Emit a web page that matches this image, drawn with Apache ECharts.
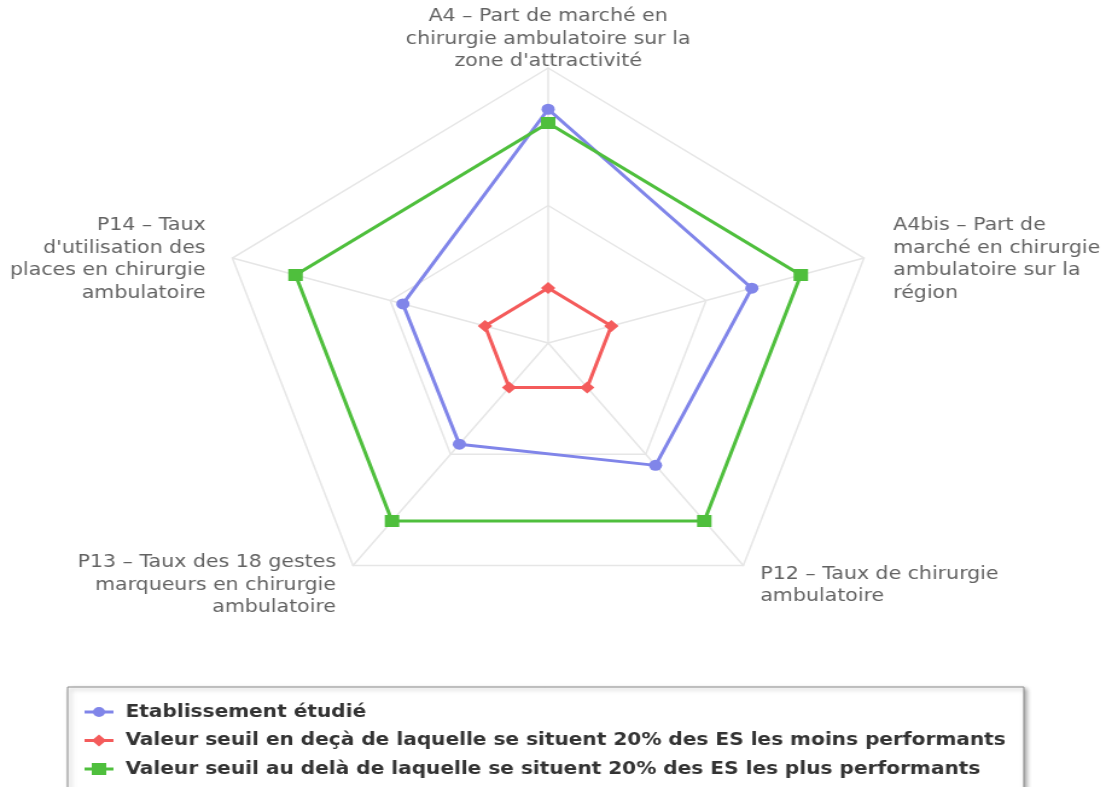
<!DOCTYPE html>
<html>
<head>
<meta charset="utf-8">
<title>Radar chirurgie ambulatoire</title>
<script src="https://cdn.jsdelivr.net/npm/echarts@6/dist/echarts.min.js"></script>
<style>
  html, body { margin: 0; padding: 0; background: #fff; overflow: hidden; }
  /* the reference is stretched horizontally, so the whole chart is too */
  #chart { width: 916px; height: 787px; transform: scaleX(1.2074); transform-origin: 0 0; }
</style>
</head>
<body>
<div id="chart"></div>
<script>
// indicators, clockwise from the top
const indicators = [
  "A4 \u2013 Part de march\u00e9 en\nchirurgie ambulatoire sur la\nzone d'attractivit\u00e9",
  'A4bis \u2013 Part de\nmarch\u00e9 en chirurgie\nambulatoire sur la\nr\u00e9gion',
  'P12 \u2013 Taux de chirurgie\nambulatoire',
  'P13 \u2013 Taux des 18 gestes\nmarqueurs en chirurgie\nambulatoire',
  "P14 \u2013 Taux\nd'utilisation des\nplaces en chirurgie\nambulatoire"
]
const seriesNames = [
  'Etablissement \u00e9tudi\u00e9',
  'Valeur seuil en de\u00e7\u00e0 de laquelle se situent 20% des ES les moins performants',
  'Valeur seuil au del\u00e0 de laquelle se situent 20% des ES les plus performants'
]
const etablissement = [0.85, 0.645, 0.55, 0.455, 0.46]
const seuilBas = [0.2, 0.2, 0.2, 0.2, 0.2]
const seuilHaut = [0.8, 0.8, 0.8, 0.8, 0.8]

const colors = ['#8085e9', '#f45b5b', '#4fbf3d']
const icons = [
  'path://M0,4.5H24V7.5H0Z M17,6A5,5 0 1,1 7,6A5,5 0 1,1 17,6Z',
  'path://M0,4.5H24V7.5H0Z M12,0L18,6L12,12L6,6Z',
  'path://M0,4.5H24V7.5H0Z M6,0H18V12H6Z'
]
const symbols = ['circle', 'diamond', 'rect']
const symbolSizes = [11, 12, 12]

// echarts lays radar axes out counter-clockwise
const order = [0, 4, 3, 2, 1]
const reorder = arr => order.map(i => arr[i])

// per-label nudges so the names sit like in the reference
const nameStyle = ['top', 'right', 'lower', 'lower', 'left']
function formatName(name) {
  const idx = indicators.indexOf(name)
  const lines = name.split('\n')
  const kind = nameStyle[idx]
  let tag = 'n'
  if (kind === 'right') tag = 'r'
  if (kind === 'left') tag = 'l'
  if (kind === 'lower') tag = idx === 2 ? 'r2' : 'l2'
  let out = lines.map(l => '{' + tag + '|' + l + '}').join('\n')
  if (kind === 'lower') out = '{gap| }\n' + out
  return out
}

const base = { fontFamily: 'DejaVu Sans', fontSize: 17, lineHeight: 22.5, color: '#626262' }

const chart = echarts.init(document.getElementById('chart'))
chart.setOption({
  animation: false,
  legend: {
    orient: 'vertical',
    left: 56,
    top: 687,
    height: 160,
    padding: [15, 15, 20, 14],
    backgroundColor: '#ffffff',
    borderColor: '#8c8c8c',
    borderWidth: 1,
    shadowColor: 'rgba(0,0,0,0.35)',
    shadowBlur: 4,
    shadowOffsetX: 2,
    shadowOffsetY: 2,
    itemWidth: 24,
    itemHeight: 12,
    itemGap: 8.5,
    selectedMode: false,
    textStyle: {
      fontFamily: '"DejaVu Sans Condensed", "Liberation Sans", sans-serif',
      fontWeight: 'bold',
      fontSize: 18.5,
      lineHeight: 20,
      padding: [0, 0, 0, 5],
      color: '#333333'
    },
    data: seriesNames.map((n, i) => ({ name: n, icon: icons[i] }))
  },
  radar: {
    center: [454, 343],
    radius: 275,
    startAngle: 90,
    splitNumber: 2,
    shape: 'polygon',
    nameGap: -5,
    axisName: {
      formatter: formatName,
      rich: {
        n: base,
        r: Object.assign({}, base, { padding: [0, 0, 0, 29] }),
        l: Object.assign({}, base, { padding: [0, 27, 0, 0] }),
        r2: Object.assign({}, base, { padding: [0, 0, 0, 17] }),
        l2: Object.assign({}, base, { padding: [0, 17, 0, 0] }),
        gap: { fontSize: 14, lineHeight: 48, height: 48 }
      }
    },
    splitLine: { lineStyle: { color: '#e6e6e6', width: 1.5 } },
    splitArea: { show: false },
    axisLine: { lineStyle: { color: '#e6e6e6', width: 1.5 } },
    axisTick: { show: false },
    axisLabel: { show: false },
    indicator: reorder(indicators).map(n => ({ name: n, min: 0, max: 1 }))
  },
  series: [{
    type: 'radar',
    emphasis: { disabled: true },
    data: [etablissement, seuilBas, seuilHaut].map((vals, i) => ({
      name: seriesNames[i],
      value: reorder(vals),
      symbol: symbols[i],
      symbolSize: symbolSizes[i],
      itemStyle: { color: colors[i] },
      lineStyle: { color: colors[i], width: 3 }
    }))
  }]
})
</script>
</body>
</html>
